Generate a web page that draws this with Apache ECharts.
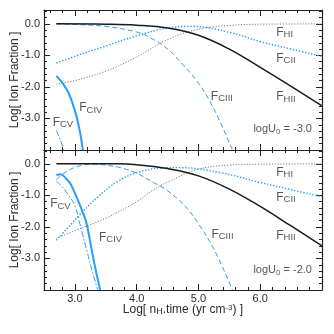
<!DOCTYPE html>
<html>
<head>
<meta charset="utf-8">
<script src="https://cdn.jsdelivr.net/npm/echarts@6/dist/echarts.min.js"></script>
<style>
  html, body { margin: 0; padding: 0; background: #fff; }
  #chart { width: 334px; height: 334px; }
</style>
</head>
<body>
<div id="chart"></div>
<script>
// axis ticks
var xMajorTicks = [3, 4, 5, 6, 7];
var xLabelTicks = [3, 4, 5, 6];
var xMinorTicks = [2.6, 2.8, 3.2, 3.4, 3.6, 3.8, 4.2, 4.4, 4.6, 4.8, 5.2, 5.4, 5.6, 5.8, 6.2, 6.4, 6.6, 6.8];
var yMajorTicks = [-4, -3, -2, -1, 0];
var yLabelTicks = [-3, -2, -1, 0];
var yMinorTicks = [-3.8, -3.6, -3.4, -3.2, -2.8, -2.6, -2.4, -2.2, -1.8, -1.6, -1.4, -1.2, -0.8, -0.6, -0.4, -0.2, 0.2, 0.4];

// top panel, logU0 = -3.0  ([log nH.time, log fraction])
var hiiTop = [[2.7, 0], [3.5, -0.01], [4.0, -0.04], [4.5, -0.13], [5.0, -0.36], [5.5, -0.8], [6.0, -1.38], [6.5, -1.98], [7.0, -2.6]];
var hiTop = [[2.7, -1.91], [3.0, -1.8], [3.5, -1.5], [4.0, -1.05], [4.5, -0.5], [5.0, -0.17], [5.5, -0.05], [6.0, -0.01], [7.0, 0]];
var ciiTop = [[2.7, -1.24], [3.0, -1.03], [3.5, -0.7], [4.0, -0.38], [4.5, -0.13], [4.9, -0.08], [5.5, -0.27], [6.0, -0.56], [6.5, -0.8], [7.0, -1.03]];
var ciiiTop = [[2.7, 0], [3.0, -0.02], [3.5, -0.08], [4.0, -0.26], [4.25, -0.47], [4.5, -0.8], [4.75, -1.3], [5.0, -1.88], [5.25, -2.7], [5.55, -4.0]];
var civTop = [[2.7, -1.65], [2.8, -1.88], [2.9, -2.2], [3.0, -2.75], [3.07, -3.3], [3.13, -4.0]];
var cvTop = [[2.7, -3.38], [2.76, -3.66], [2.82, -4.0]];

// bottom panel, logU0 = -2.0
var hiiBot = [[2.7, 0], [3.7, 0], [4.0, -0.03], [4.5, -0.15], [5.0, -0.38], [5.5, -0.8], [6.0, -1.35], [6.5, -1.97], [7.0, -2.6]];
var hiBot = [[2.7, -2.36], [3.0, -2.12], [3.5, -1.72], [4.0, -1.2], [4.25, -0.85], [4.5, -0.58], [5.0, -0.17], [5.5, -0.04], [6.0, -0.01], [7.0, 0]];
var ciiBot = [[2.7, -2.42], [3.04, -1.7], [3.37, -1.05], [3.7, -0.55], [4.0, -0.28], [4.4, -0.13], [4.7, -0.12], [5.36, -0.28], [6.0, -0.59], [6.5, -0.82], [7.0, -1.04]];
var ciiiBot = [[2.7, -0.49], [2.9, -0.2], [3.1, -0.05], [3.3, -0.01], [3.5, -0.04], [3.74, -0.12], [4.0, -0.3], [4.28, -0.6], [4.5, -0.85], [4.82, -1.42], [5.0, -1.9], [5.25, -2.7], [5.55, -4.0]];
var civBot = [[2.7, -0.35], [2.77, -0.33], [2.85, -0.45], [2.93, -0.64], [3.04, -1.11], [3.12, -1.5], [3.19, -1.9], [3.26, -2.6], [3.33, -3.3], [3.41, -4.0]];
var cvBot = [[2.7, -0.55], [2.8, -0.74], [2.9, -1.0], [3.0, -1.32], [3.06, -1.75], [3.12, -2.2], [3.2, -2.8], [3.28, -3.4], [3.37, -4.0]];

// curve labels: [x, y, ion]
var labelsTop = [[2.64, -3.12, 'CV'], [3.07, -2.67, 'CIV'], [5.2, -2.3, 'CIII'], [6.26, -0.27, 'HI'], [6.26, -1.09, 'CII'], [6.26, -2.32, 'HII']];
var labelsBot = [[2.6, -1.27, 'CV'], [3.39, -2.33, 'CIV'], [5.21, -2.23, 'CIII'], [6.26, -0.27, 'HI'], [6.26, -1.07, 'CII'], [6.26, -2.28, 'HII']];
var uTop = [[5.89, -3.33, '-3.0']];
var uBot = [[5.89, -3.35, '-2.0']];

var FONT = 'Liberation Sans, Arial, sans-serif';
var BLUE = '#2a9df4';
var INK = '#2b2b2b';
var AX = '#222';

var chart = echarts.init(document.getElementById('chart'));

function xAxes(g, withLabels) {
    var list = [];
    ['bottom', 'top'].forEach(function (pos) {
        var main = pos === 'bottom';
        list.push({
            type: 'value', gridIndex: g, position: pos, min: 2.5, max: 7,
            splitLine: { show: false },
            axisLine: { show: true, onZero: false, lineStyle: { color: AX, width: 1.2 } },
            axisTick: { show: true, inside: true, length: 6, customValues: xMajorTicks, lineStyle: { color: AX } },
            axisLabel: {
                show: main && withLabels, customValues: xLabelTicks, margin: 3,
                formatter: function (v) { return v.toFixed(1); },
                fontSize: 11, color: INK, fontFamily: FONT
            },
            name: (main && withLabels) ? 'Log[ n{s|H}.time (yr cm{p|-3}) ]' : '',
            nameLocation: 'middle', nameGap: 14, nameMoveOverlap: false,
            nameTextStyle: {
                fontSize: 12, color: INK, fontFamily: FONT,
                rich: {
                    s: { fontSize: 9, color: INK, fontFamily: FONT, verticalAlign: 'bottom', lineHeight: 10 },
                    p: { fontSize: 8, color: INK, fontFamily: FONT, verticalAlign: 'top', lineHeight: 10 }
                }
            }
        });
        list.push({
            type: 'value', gridIndex: g, position: pos, min: 2.5, max: 7,
            splitLine: { show: false },
            axisLine: { show: false, onZero: false },
            axisTick: { show: true, inside: true, length: 3, customValues: xMinorTicks, lineStyle: { color: AX } },
            axisLabel: { show: false }
        });
    });
    return list;
}

function yAxes(g) {
    var list = [];
    ['left', 'right'].forEach(function (pos) {
        var main = pos === 'left';
        list.push({
            type: 'value', gridIndex: g, position: pos, min: -4, max: 0.44,
            splitLine: { show: false },
            axisLine: { show: true, onZero: false, lineStyle: { color: AX, width: 1.2 } },
            axisTick: { show: true, inside: true, length: 6, customValues: yMajorTicks, lineStyle: { color: AX } },
            axisLabel: {
                show: main, customValues: yLabelTicks, margin: 4,
                formatter: function (v) { return v.toFixed(1); },
                fontSize: 11, color: INK, fontFamily: FONT
            },
            name: main ? 'Log[ Ion Fraction ]' : '',
            nameLocation: 'middle', nameGap: 23, nameMoveOverlap: false,
            nameTextStyle: { fontSize: 12, color: INK, fontFamily: FONT }
        });
        list.push({
            type: 'value', gridIndex: g, position: pos, min: -4, max: 0.44,
            splitLine: { show: false },
            axisLine: { show: false, onZero: false },
            axisTick: { show: true, inside: true, length: 3, customValues: yMinorTicks, lineStyle: { color: AX } },
            axisLabel: { show: false }
        });
    });
    return list;
}

function curve(data, ax, color, width, type) {
    return {
        type: 'line', data: data, xAxisIndex: ax, yAxisIndex: ax,
        smooth: 0.4, showSymbol: false, silent: true,
        lineStyle: { color: color, width: width, type: type }
    };
}

function textLabels(rows, ax, uLabel) {
    return {
        type: 'scatter', xAxisIndex: ax, yAxisIndex: ax, symbolSize: 0, silent: true,
        data: rows.map(function (r) { return { value: [r[0], r[1]], ion: r[2] }; }),
        label: {
            show: true, position: 'right', distance: 0,
            formatter: function (p) {
                return uLabel ? 'logU{s|0} = ' + p.data.ion : 'F{s|' + p.data.ion + '}';
            },
            fontSize: uLabel ? 11 : 12, color: INK, fontFamily: FONT, lineHeight: 14,
            rich: {
                s: { fontSize: uLabel ? 8 : 9.5, color: INK, fontFamily: FONT, verticalAlign: 'bottom', lineHeight: 10 }
            }
        }
    };
}

var option = {
    animation: false,
    grid: [
        { left: 44, top: 10, width: 278, height: 140, outerBoundsMode: 'none' },
        { left: 44, top: 150, width: 278, height: 140, outerBoundsMode: 'none' }
    ],
    xAxis: xAxes(0, false).concat(xAxes(1, true)),
    yAxis: yAxes(0).concat(yAxes(1)),
    series: [
        curve(hiTop, 0, '#7a7a7a', 1, [1.2, 1.6]),
        curve(ciiTop, 0, BLUE, 1.4, [1.4, 1.7]),
        curve(ciiiTop, 0, BLUE, 1, [5, 3]),
        curve(cvTop, 0, BLUE, 1, [6, 2, 1.5, 2]),
        curve(civTop, 0, BLUE, 2, 'solid'),
        curve(hiiTop, 0, '#1a1a1a', 1.5, 'solid'),
        curve(hiBot, 4, '#7a7a7a', 1, [1.2, 1.6]),
        curve(ciiBot, 4, BLUE, 1.4, [1.4, 1.7]),
        curve(ciiiBot, 4, BLUE, 1, [5, 3]),
        curve(cvBot, 4, BLUE, 1, [6, 2, 1.5, 2]),
        curve(civBot, 4, BLUE, 2, 'solid'),
        curve(hiiBot, 4, '#1a1a1a', 1.5, 'solid'),
        textLabels(labelsTop, 0, false),
        textLabels(labelsBot, 4, false),
        textLabels(uTop, 0, true),
        textLabels(uBot, 4, true)
    ]
};
chart.setOption(option);
</script>
</body>
</html>
